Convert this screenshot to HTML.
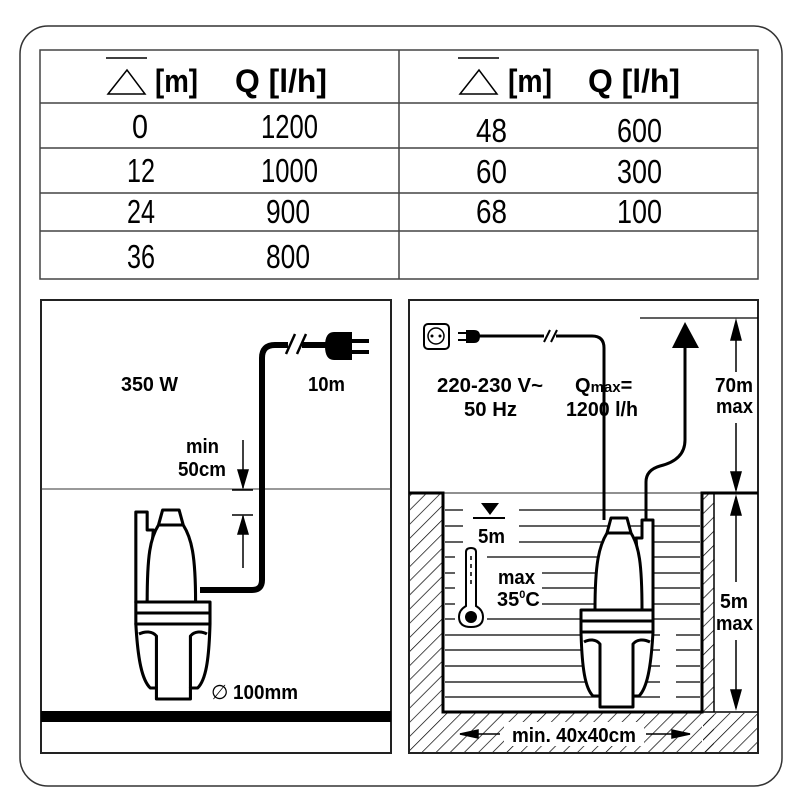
<!DOCTYPE html>
<html><head><meta charset="utf-8"><style>
html,body{margin:0;padding:0;background:#fff;}
svg{display:block;}
text{font-family:"Liberation Sans",Arial,sans-serif;}
.b{font-weight:bold;font-size:20px;}
.t{font-size:33px;}
.h{font-weight:bold;font-size:32px;}
</style></head><body>
<svg width="800" height="800" viewBox="0 0 800 800" xmlns="http://www.w3.org/2000/svg">
<defs>
<pattern id="hat" width="10" height="10" patternUnits="userSpaceOnUse" patternTransform="rotate(45)">
<line x1="0" y1="0" x2="0" y2="10" stroke="#000" stroke-width="1.4"/>
</pattern>
<g id="pump" fill="#fff" stroke="#000" stroke-width="3" stroke-linejoin="round">
<path d="M55,20 H61 V2 H72 V92 H61 Z"/>
<path d="M14,92 C14,45 18,28 26,15 L30,0 H46 L50,15 C58,28 61,45 61,92 Z"/>
<path d="M26,15 H50" fill="none"/>
<path d="M0,114 C1,150 4,170 12,178 H19 V189 H52 V178 H58 C66,170 70,150 72,114 Z"/>
<path d="M19,178 V126 C15,121 8,121 3,124 M52,178 V126 C56,121 63,121 69,124" fill="none"/>
<rect x="0" y="92" width="72" height="22"/>
<line x1="0" y1="103" x2="72" y2="103"/>
</g>
</defs>
<rect x="0" y="0" width="800" height="800" fill="#fff"/>
<rect x="20" y="26" width="762" height="760" rx="28" fill="none" stroke="#333" stroke-width="1.5"/>

<g stroke="#444" stroke-width="1.5" fill="none">
<rect x="40" y="50" width="718" height="229"/>
<line x1="399" y1="50" x2="399" y2="279"/>
<line x1="40" y1="103" x2="758" y2="103"/>
<line x1="40" y1="148" x2="758" y2="148"/>
<line x1="40" y1="193" x2="758" y2="193"/>
<line x1="40" y1="231" x2="758" y2="231"/>
</g>
<g stroke="#000" stroke-width="1.5" fill="none">
<line x1="106" y1="58" x2="147" y2="58"/>
<path d="M108,94 L127,70 L145,94 Z"/>
<line x1="458" y1="58" x2="499" y2="58"/>
<path d="M460,94 L479,70 L497,94 Z"/>
</g>
<text x="155" y="92" class="h" textLength="43" lengthAdjust="spacingAndGlyphs">[m]</text>
<text x="235" y="92" class="h" textLength="92" lengthAdjust="spacingAndGlyphs">Q [l/h]</text>
<text x="508" y="92" class="h" textLength="44" lengthAdjust="spacingAndGlyphs">[m]</text>
<text x="588" y="92" class="h" textLength="92" lengthAdjust="spacingAndGlyphs">Q [l/h]</text>
<text x="132" y="138" class="t" textLength="16" lengthAdjust="spacingAndGlyphs">0</text>
<text x="261" y="138" class="t" textLength="57" lengthAdjust="spacingAndGlyphs">1200</text>
<text x="127" y="182" class="t" textLength="28" lengthAdjust="spacingAndGlyphs">12</text>
<text x="261" y="182" class="t" textLength="57" lengthAdjust="spacingAndGlyphs">1000</text>
<text x="127" y="223" class="t" textLength="28" lengthAdjust="spacingAndGlyphs">24</text>
<text x="266" y="223" class="t" textLength="44" lengthAdjust="spacingAndGlyphs">900</text>
<text x="127" y="268" class="t" textLength="28" lengthAdjust="spacingAndGlyphs">36</text>
<text x="266" y="268" class="t" textLength="44" lengthAdjust="spacingAndGlyphs">800</text>
<text x="476" y="142" class="t" textLength="31" lengthAdjust="spacingAndGlyphs">48</text>
<text x="617" y="142" class="t" textLength="45" lengthAdjust="spacingAndGlyphs">600</text>
<text x="476" y="183" class="t" textLength="31" lengthAdjust="spacingAndGlyphs">60</text>
<text x="617" y="183" class="t" textLength="45" lengthAdjust="spacingAndGlyphs">300</text>
<text x="476" y="223" class="t" textLength="31" lengthAdjust="spacingAndGlyphs">68</text>
<text x="617" y="223" class="t" textLength="45" lengthAdjust="spacingAndGlyphs">100</text>

<rect x="41" y="300" width="350" height="453" fill="none" stroke="#222" stroke-width="2"/>
<line x1="41" y1="489" x2="391" y2="489" stroke="#333" stroke-width="1"/>
<rect x="41" y="711" width="350" height="11" fill="#000"/>
<path d="M200,590 H252 Q262,590 262,580 V358 Q262,345 275,345 H328" fill="none" stroke="#000" stroke-width="6"/>
<rect x="288" y="338" width="14" height="14" fill="#fff"/>
<g stroke="#000" stroke-width="2.5"><line x1="286" y1="354" x2="295" y2="334"/><line x1="297" y1="354" x2="306" y2="334"/></g>
<path d="M334,332 H352 V360 H334 Q325,360 325,346 Q325,332 334,332 Z" fill="#000"/>
<rect x="350" y="339" width="19" height="4" fill="#000"/><rect x="350" y="350" width="19" height="4" fill="#000"/>
<use href="#pump" transform="translate(210,510) scale(-1.03,1)"/>
<g stroke="#000" stroke-width="1.5" fill="#000">
<line x1="243" y1="440" x2="243" y2="488"/><path d="M238,470 L248,470 L243,487 Z"/>
<line x1="232" y1="490" x2="253" y2="490"/><line x1="232" y1="515" x2="253" y2="515"/>
<line x1="243" y1="516" x2="243" y2="568"/><path d="M238,534 L248,534 L243,517 Z"/>
</g>
<text x="121" y="391" class="b" textLength="57" lengthAdjust="spacingAndGlyphs">350 W</text>
<text x="308" y="391" class="b" textLength="37" lengthAdjust="spacingAndGlyphs">10m</text>
<text x="186" y="453" class="b" textLength="33" lengthAdjust="spacingAndGlyphs">min</text>
<text x="178" y="476" class="b" textLength="48" lengthAdjust="spacingAndGlyphs">50cm</text>
<text x="211" y="699" font-size="20">∅</text>
<text x="233" y="699" class="b" textLength="65" lengthAdjust="spacingAndGlyphs">100mm</text>

<rect x="409" y="300" width="349" height="453" fill="none" stroke="#222" stroke-width="2"/>
<line x1="409" y1="493" x2="758" y2="493" stroke="#222" stroke-width="1"/>
<line x1="640" y1="318" x2="758" y2="318" stroke="#000" stroke-width="1.2"/>
<rect x="410" y="494" width="33" height="258" fill="url(#hat)"/>
<rect x="443" y="713" width="259" height="39" fill="url(#hat)"/>
<rect x="703" y="494" width="11" height="258" fill="url(#hat)"/>
<rect x="703" y="713" width="54" height="39" fill="url(#hat)"/>
<rect x="714" y="494" width="43" height="218" fill="#fff"/>
<g stroke="#000" stroke-width="1.5" fill="none">
<line x1="443" y1="712" x2="758" y2="712"/>
<line x1="714" y1="493" x2="714" y2="712"/>
</g>
<path d="M409,493 H443 V712 H702 V493 H758" fill="none" stroke="#000" stroke-width="3"/>
<g stroke="#000" stroke-width="1.2">
<line x1="445" y1="510" x2="700" y2="510"/><line x1="445" y1="526" x2="700" y2="526"/>
<line x1="445" y1="542" x2="700" y2="542"/><line x1="445" y1="557" x2="700" y2="557"/>
<line x1="445" y1="573" x2="700" y2="573"/><line x1="445" y1="588" x2="700" y2="588"/>
<line x1="445" y1="604" x2="700" y2="604"/><line x1="445" y1="619" x2="700" y2="619"/>
<line x1="445" y1="635" x2="700" y2="635"/><line x1="445" y1="650" x2="700" y2="650"/>
<line x1="445" y1="666" x2="700" y2="666"/><line x1="445" y1="682" x2="700" y2="682"/>
<line x1="445" y1="697" x2="700" y2="697"/>
</g>
<rect x="463" y="500" width="56" height="50" fill="#fff"/>
<rect x="455" y="550" width="32" height="78" fill="#fff"/>
<rect x="487" y="565" width="55" height="50" fill="#fff"/>
<rect x="660" y="630" width="16" height="70" fill="#fff"/>
<path d="M481,503 H499 L490,515 Z" fill="#000"/>
<line x1="473" y1="518" x2="505" y2="518" stroke="#000" stroke-width="2"/>
<text x="478" y="543" class="b" textLength="27" lengthAdjust="spacingAndGlyphs">5m</text>
<path d="M466,552 Q466,548 471,548 Q476,548 476,552 V606 Q483,610 483,617 Q483,627 471,627 Q459,627 459,617 Q459,610 466,606 Z" fill="#fff" stroke="#000" stroke-width="2"/>
<circle cx="471" cy="617" r="6" fill="#000"/>
<g stroke="#000" stroke-width="1.5"><line x1="471" y1="556" x2="471" y2="560"/><line x1="471" y1="564" x2="471" y2="568"/><line x1="471" y1="572" x2="471" y2="576"/><line x1="471" y1="580" x2="471" y2="584"/></g>
<text x="498" y="584" class="b" textLength="37" lengthAdjust="spacingAndGlyphs">max</text>
<text x="497" y="606" class="b">35<tspan dy="-8" font-size="11">0</tspan><tspan dy="8">C</tspan></text>
<path d="M478,336 H592 Q604,336 604,348 V520" fill="none" stroke="#000" stroke-width="3"/>
<rect x="544" y="330" width="12" height="12" fill="#fff"/>
<g stroke="#000" stroke-width="2"><line x1="544" y1="342" x2="550" y2="330"/><line x1="551" y1="342" x2="557" y2="330"/></g>
<path d="M646,520 V482 Q646,470 660,466 Q685,460 685,440 V345" fill="none" stroke="#000" stroke-width="3"/>
<path d="M672,348 L685,322 L699,348 Z" fill="#000"/>
<rect x="424" y="324" width="25" height="25" rx="4" fill="#fff" stroke="#000" stroke-width="2"/>
<circle cx="436" cy="336" r="8" fill="#fff" stroke="#000" stroke-width="1.5"/>
<circle cx="432" cy="336" r="1.5"/><circle cx="440" cy="336" r="1.5"/>
<path d="M466,330 H474 Q480,330 480,336 Q480,343 474,343 H466 Z" fill="#000"/>
<rect x="458" y="332" width="9" height="2" fill="#000"/><rect x="458" y="339" width="9" height="2" fill="#000"/>
<use href="#pump" transform="translate(581,518)"/>
<text x="437" y="392" class="b" textLength="106" lengthAdjust="spacingAndGlyphs">220-230 V~</text>
<text x="464" y="416" class="b" textLength="53" lengthAdjust="spacingAndGlyphs">50 Hz</text>
<text x="575" y="392" class="b">Q<tspan font-size="15">max</tspan>=</text>
<text x="566" y="416" class="b" textLength="72" lengthAdjust="spacingAndGlyphs">1200 l/h</text>
<g stroke="#000" stroke-width="1.5" fill="#000">
<line x1="736" y1="322" x2="736" y2="372"/><path d="M731,340 L741,340 L736,321 Z"/>
<line x1="736" y1="423" x2="736" y2="490"/><path d="M731,472 L741,472 L736,490 Z"/>
<line x1="736" y1="497" x2="736" y2="582"/><path d="M731,515 L741,515 L736,497 Z"/>
<line x1="736" y1="640" x2="736" y2="708"/><path d="M731,690 L741,690 L736,708 Z"/>
<line x1="460" y1="734" x2="500" y2="734"/><path d="M460,734 L478,730 L478,738 Z"/>
<line x1="646" y1="734" x2="690" y2="734"/><path d="M690,734 L672,730 L672,738 Z"/>
</g>
<rect x="504" y="722" width="140" height="24" fill="#fff"/>
<text x="715" y="392" class="b" textLength="38" lengthAdjust="spacingAndGlyphs">70m</text>
<text x="716" y="413" class="b" textLength="37" lengthAdjust="spacingAndGlyphs">max</text>
<text x="720" y="608" class="b" textLength="28" lengthAdjust="spacingAndGlyphs">5m</text>
<text x="716" y="630" class="b" textLength="37" lengthAdjust="spacingAndGlyphs">max</text>
<text x="512" y="742" class="b" textLength="124" lengthAdjust="spacingAndGlyphs">min. 40x40cm</text>
</svg>
</body></html>
